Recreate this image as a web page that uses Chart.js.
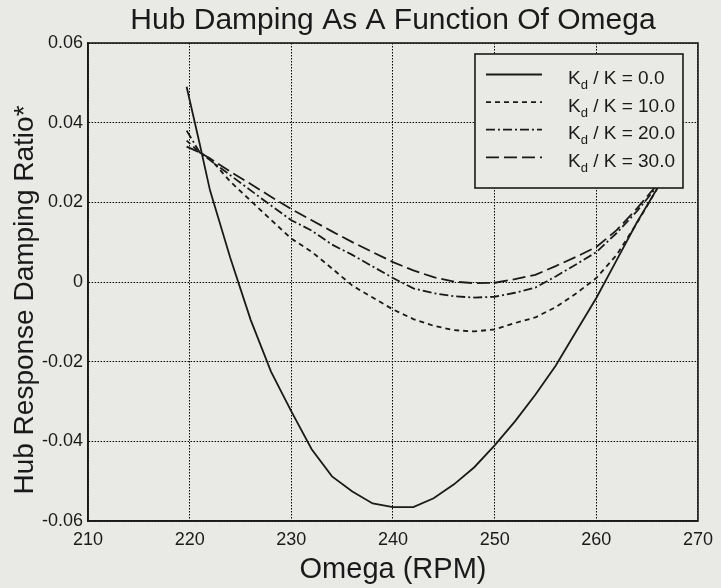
<!DOCTYPE html>
<html>
<head>
<meta charset="utf-8">
<title>Hub Damping As A Function Of Omega</title>
<script src="https://cdn.jsdelivr.net/npm/chart.js@4.4.0/dist/chart.umd.min.js"></script>
<style>
  html, body { margin: 0; padding: 0; background: #e9eae6; }
  #wrap { width: 721px; height: 588px; }
</style>
</head>
<body>
<div id="wrap"><canvas id="chart" width="721" height="588"></canvas></div>
<script>
// Omega (RPM) sample points
const omega = [219.7, 221, 222, 224, 226, 228, 230, 232, 234, 236, 238, 240, 242,
  244, 246, 248, 250, 252, 254, 256, 258, 260, 262, 264, 266];

// Hub response damping ratio for each Kd/K
const kd0 = [0.049, 0.0345, 0.023, 0.006, -0.0095, -0.0225, -0.0325, -0.042, -0.0488,
  -0.0526, -0.0556, -0.0565, -0.0565, -0.0543, -0.0508, -0.0465, -0.041, -0.035,
  -0.0283, -0.021, -0.0125, -0.004, 0.0055, 0.015, 0.0235];
const kd10 = [0.0355, 0.0325, 0.031, 0.0252, 0.0204, 0.0156, 0.0109, 0.0076, 0.0034,
  -0.0009, -0.0039, -0.0069, -0.0093, -0.011, -0.0121, -0.0124, -0.0119, -0.0103,
  -0.0089, -0.0063, -0.0029, 0.001, 0.0068, 0.0148, 0.0235];
const kd20 = [0.038, 0.0325, 0.0306, 0.0268, 0.023, 0.0192, 0.0155, 0.0129, 0.0094,
  0.0068, 0.0039, 0.001, -0.0016, -0.0028, -0.0036, -0.0039, -0.0037, -0.0027,
  -0.0014, 0.0014, 0.0044, 0.0075, 0.0123, 0.0178, 0.024];
const kd30 = [0.034, 0.0325, 0.031, 0.0277, 0.0246, 0.0214, 0.0183, 0.0155, 0.0127,
  0.01, 0.0075, 0.005, 0.0029, 0.0012, 0.0001, -0.0003, -0.0002, 0.0007, 0.0018,
  0.004, 0.0063, 0.0088, 0.013, 0.0185, 0.0245];

const ratioLabels = ['0.0', '10.0', '20.0', '30.0'];
const dashes = [[], [5, 4], [9, 3, 2, 3], [13, 5]];

const bg = '#e9eae6';
const ink = '#1a1a1a';
const fontFam = '"Liberation Sans", Arial, Helvetica, sans-serif';

const series = [kd0, kd10, kd20, kd30];
const datasets = series.map((vals, i) => ({
  label: 'Kd / K = ' + ratioLabels[i],
  data: omega.map((x, j) => ({ x: x, y: vals[j] })),
  borderColor: ink,
  borderWidth: 1.8,
  borderDash: dashes[i],
  pointRadius: 0,
  tension: 0,
  fill: false
}));

// frame round the plot area
const frame = {
  id: 'frame',
  afterDatasetsDraw(chart) {
    const a = chart.chartArea;
    const c = chart.ctx;
    c.save();
    c.strokeStyle = ink;
    c.lineWidth = 1.6;
    c.strokeRect(a.left, a.top, a.right - a.left, a.bottom - a.top);
    c.restore();
  }
};

// boxed legend with subscript d
const hubLegend = {
  id: 'hubLegend',
  afterDraw(chart) {
    const a = chart.chartArea;
    const c = chart.ctx;
    const bx = a.right - 223, by = a.top + 11, bw = 208, bh = 134;
    c.save();
    c.fillStyle = bg;
    c.fillRect(bx, by, bw, bh);
    c.strokeStyle = ink;
    c.lineWidth = 1.6;
    c.strokeRect(bx, by, bw, bh);
    chart.data.datasets.forEach((ds, i) => {
      const y = by + 20.5 + i * 27.6;
      c.beginPath();
      c.setLineDash(ds.borderDash);
      c.lineWidth = 1.8;
      c.moveTo(bx + 11, y);
      c.lineTo(bx + 67, y);
      c.stroke();
      c.setLineDash([]);
      c.fillStyle = ink;
      c.textBaseline = 'alphabetic';
      c.textAlign = 'left';
      let x = bx + 93;
      const base = y + 9.5;
      c.font = '19px ' + fontFam;
      c.fillText('K', x, base);
      x += c.measureText('K').width;
      c.font = '13px ' + fontFam;
      c.fillText('d', x, base + 5);
      x += c.measureText('d').width;
      c.font = '19px ' + fontFam;
      c.fillText(' / K = ' + ratioLabels[i], x, base);
    });
    c.restore();
  }
};

// y axis title, drawn a bit below centre as in the figure
const yTitle = {
  id: 'yTitle',
  afterDraw(chart) {
    const c = chart.ctx;
    c.save();
    c.translate(25, 300);
    c.rotate(-Math.PI / 2);
    c.font = '28px ' + fontFam;
    c.fillStyle = ink;
    c.textAlign = 'center';
    c.textBaseline = 'middle';
    c.fillText('Hub Response Damping Ratio*', 0, 0);
    c.restore();
  }
};

new Chart(document.getElementById('chart').getContext('2d'), {
  type: 'line',
  data: { datasets: datasets },
  plugins: [frame, hubLegend, yTitle],
  options: {
    responsive: false,
    animation: false,
    layout: { padding: { left: 0, right: 21, top: 0, bottom: 0 } },
    plugins: {
      legend: { display: false },
      tooltip: { enabled: false },
      title: {
        display: true,
        fullSize: false,
        text: 'Hub Damping As A Function Of Omega',
        color: ink,
        font: { family: fontFam, size: 30, weight: 'normal' },
        padding: { top: 3, bottom: 4 }
      }
    },
    scales: {
      x: {
        type: 'linear',
        min: 210,
        max: 270,
        afterFit(s) { s.height = 67; },
        ticks: {
          stepSize: 10,
          padding: 8,
          color: ink,
          font: { family: fontFam, size: 18 }
        },
        grid: { color: '#000', lineWidth: 1, drawTicks: false },
        border: { display: true, color: ink, width: 1.6, dash: [1.5, 1.5] },
        title: {
          display: true,
          text: 'Omega (RPM)',
          color: ink,
          font: { family: fontFam, size: 29 },
          padding: { top: 0, bottom: 1 }
        }
      },
      y: {
        type: 'linear',
        min: -0.06,
        max: 0.06,
        afterFit(s) { s.width = 88; },
        ticks: {
          stepSize: 0.02,
          padding: 5,
          color: ink,
          font: { family: fontFam, size: 18 },
          callback: v => Math.abs(v) < 1e-9 ? '0' : v.toFixed(2)
        },
        grid: { color: '#000', lineWidth: 1, drawTicks: false },
        border: { display: true, color: ink, width: 1.6, dash: [1.5, 1.5] }
      }
    }
  }
});
</script>
</body>
</html>
